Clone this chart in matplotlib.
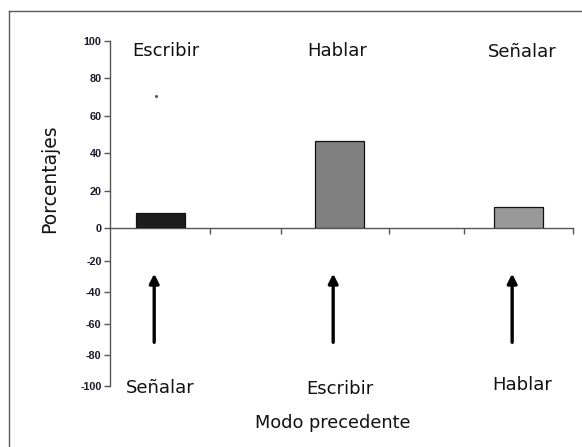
import matplotlib
matplotlib.use("Agg")
import matplotlib.pyplot as plt
from matplotlib.lines import Line2D

# Data
top_labels = ["Escribir", "Hablar", "Señalar"]
bottom_labels = ["Señalar", "Escribir", "Hablar"]
values = [8, 46.5, 11]
bar_colors = ["#1c1c1c", "#808080", "#999999"]
y_ticks_top = [0, 20, 40, 60, 80, 100]
y_ticks_bottom = [-20, -40, -60, -80, -100]
arrow_from, arrow_to = -72, -28
xlabel = "Modo precedente"
ylabel = "Porcentajes"

W, H = 582, 447
fig = plt.figure(figsize=(W / 100, H / 100), dpi=100)

def fx(px):
    return px / W

def fy(py):
    return (H - py) / H

# outer frame (left & top edges visible)
fig.add_artist(Line2D([fx(9), fx(9)], [0, fy(11)], color="#5a5a5a", lw=1.0))
fig.add_artist(Line2D([fx(9), 1], [fy(11), fy(11)], color="#5a5a5a", lw=1.0))

x = list(range(len(values)))
xlim = (-0.282, 2.305)
spine_col = "#555555"
tick_font = dict(family="Liberation Sans", weight="bold", size=7.8)

# upper axes (0..100)
ax = fig.add_axes([fx(110), fy(228), fx(573) - fx(110), fy(41) - fy(228)])
ax.bar(x, values, width=0.27, color=bar_colors, edgecolor="#111111", linewidth=0.9, zorder=3)
ax.set_xlim(*xlim)
ax.set_ylim(0, 100)
ax.set_yticks(y_ticks_top)
ax.set_yticklabels([str(v) for v in y_ticks_top], fontdict=tick_font, color="#1a1a2a")
ax.set_xticks([0.277, 0.673, 1.276, 1.696, 2.304])
ax.set_xticklabels([])
ax.tick_params(axis="x", direction="out", length=4, width=1, color=spine_col)
ax.tick_params(axis="y", direction="out", length=4, width=1, color=spine_col, pad=2)
for s in ["top", "right"]:
    ax.spines[s].set_visible(False)
ax.spines["left"].set_color(spine_col)
ax.spines["bottom"].set_color(spine_col)
ax.spines["left"].set_linewidth(1)
ax.spines["bottom"].set_linewidth(1)
ax.patch.set_alpha(0)

# small stray dot
ax.plot([x[0] - 0.025], [70.4], marker="o", ms=1.2, color="#555555", clip_on=False)

offsets_top = [0.03, -0.01, 0.02]
yt = [94.4, 94.4, 93.9]
for xi, lab, dx, yy in zip(x, top_labels, offsets_top, yt):
    ax.text(xi + dx, yy, lab, ha="center", va="center", fontsize=13,
            family="DejaVu Sans", color="#111111", clip_on=False)

# lower axes (-100..0)
ax2 = fig.add_axes([fx(110), fy(386), fx(573) - fx(110), fy(228) - fy(386)])
ax2.set_xlim(*xlim)
ax2.set_ylim(-100, 1.3)
ax2.set_yticks(y_ticks_bottom)
ax2.set_yticklabels([str(v) for v in y_ticks_bottom], fontdict=tick_font, color="#1a1a2a")
ax2.set_xticks([])
ax2.tick_params(axis="y", direction="out", length=4, width=1, color=spine_col, pad=2)
for s in ["top", "right", "bottom"]:
    ax2.spines[s].set_visible(False)
ax2.spines["left"].set_color(spine_col)
ax2.spines["left"].set_linewidth(1)
ax2.patch.set_alpha(0)

for xi in x:
    ax2.annotate("", xy=(xi - 0.035, arrow_to), xytext=(xi - 0.035, arrow_from),
                 arrowprops=dict(arrowstyle="-|>,head_length=0.55,head_width=0.28",
                                 lw=2.4, color="black", shrinkA=0, shrinkB=0))

offsets_bottom = [0.0, 0.005, 0.02]
yb = [-101.5, -102.2, -99.5]
for xi, lab, dx, yy in zip(x, bottom_labels, offsets_bottom, yb):
    ax2.text(xi + dx, yy, lab, ha="center", va="center", fontsize=13,
             family="DejaVu Sans", color="#111111", clip_on=False)

fig.text(fx(333), fy(423), xlabel, ha="center", va="center", fontsize=12.8,
         family="DejaVu Sans", color="#111111")
fig.text(fx(50), fy(179), ylabel, ha="center", va="center", rotation=90,
         fontsize=13.5, family="DejaVu Sans", color="#111111")

fig.savefig("out.png", dpi=100)
